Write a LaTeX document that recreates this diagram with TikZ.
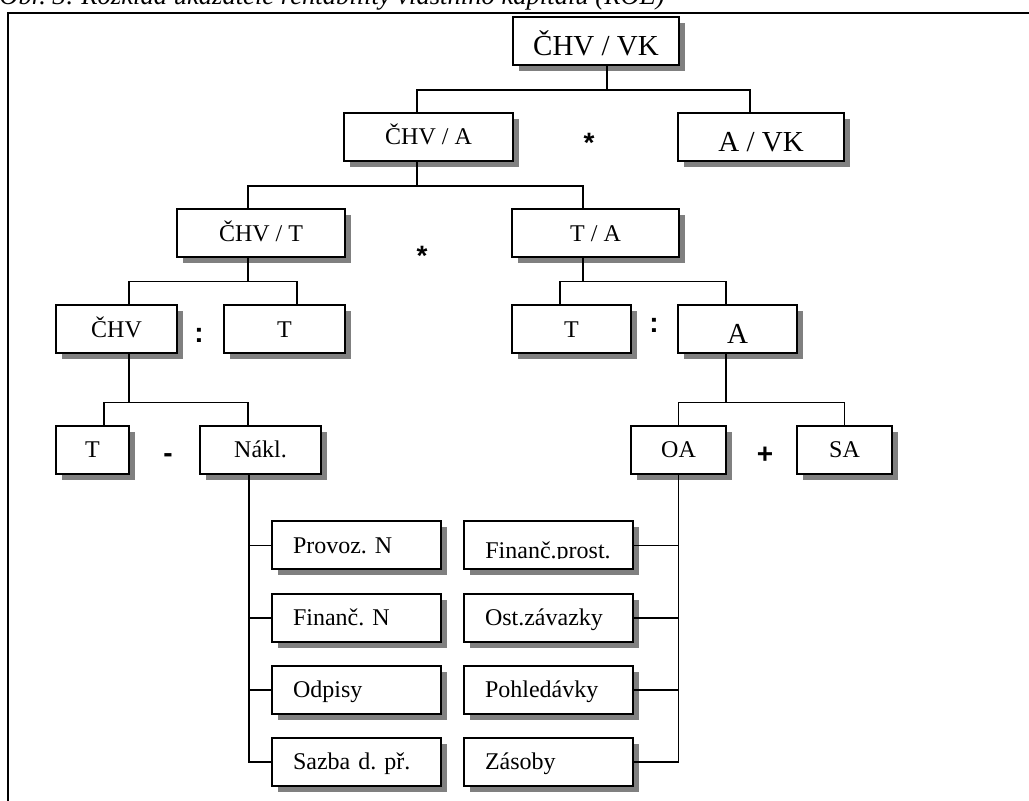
\documentclass[tikz,border=0pt]{standalone}
\usepackage{fontspec}
\setmainfont{Liberation Serif}
\newfontfamily\opfont{Liberation Sans}
\usetikzlibrary{calc,shadows}
\frenchspacing

\tikzset{
  box/.style={draw, line width=1pt, fill=white, minimum height=24pt, inner sep=0pt,
    text height=7.9pt, text depth=0pt, font=\fontsize{12}{14}\selectfont,
    drop shadow={shadow xshift=3pt, shadow yshift=-3pt, fill=black!50, opacity=1}},
  bigbox/.style={box, text height=14.5pt, font=\fontsize{14.5}{17}\selectfont},
  listbox/.style={box, minimum width=84.5pt, text width=63.5pt, align=left, inner xsep=10.5pt},
  op/.style={anchor=base, inner sep=0pt, font=\opfont\bfseries\fontsize{14}{16}\selectfont},
  link/.style={line width=0.7pt},
}

\begin{document}
\begin{tikzpicture}[x=0.5pt, y=-0.5pt]
    \useasboundingbox (0,0) rectangle (1029,801);
    % caption and frame
    \path (-1,5) node [anchor=base west, inner sep=0pt, font=\itshape\fontsize{13.3}{15}\selectfont] (titulek)
        {Obr. 3: Rozklad ukazatele rentability vlastního kapitálu (ROE)};
    \draw [line width=1pt] (1029,13) -- (8,13) -- (8,801);

    % tree
    \path (596,  41) node [bigbox, minimum width=83pt] (chvvk) {ČHV / VK};
    \path (428.5,137) node [box, minimum width=84.5pt] (chva) {ČHV / A};
    \path (761, 137.5) node [bigbox, minimum width=83pt] (avk) {A / VK};
    \path (261, 233.5) node [box, minimum width=84pt] (chvt) {ČHV / T};
    \path (595.5,233.5) node [box, minimum width=83.5pt] (ta) {T / A};
    \path (116.5,329.5) node [box, minimum width=60.5pt] (chv) {ČHV};
    \path (284.5,329.5) node [box, minimum width=60.5pt] (t1) {T};
    \path (571.5,329.5) node [box, minimum width=59.5pt] (t2) {T};
    \path (737.5,329.5) node [bigbox, minimum width=59.5pt] (a) {A};
    \path ( 92.5, 450) node [box, minimum width=36.5pt] (t3) {T};
    \path (260.5, 450) node [box, minimum width=60.5pt] (nakl) {Nákl.};
    \path (678.5, 450) node [box, minimum width=47.5pt] (oa) {OA};
    \path (844.5, 450) node [box, minimum width=47.5pt] (sa) {SA};

    % operators
    \path (589, 153) node [op] (krat1) {*};
    \path (422, 266) node [op] (krat2) {*};
    \path (199, 343) node [op] (deleno1) {:};
    \path (654, 333) node [op] (deleno2) {:};
    \path (168, 463) node [op] (minus) {-};
    \path (765, 464) node [op] (plus) {+};

    % costs and assets
    \path (356.5, 545.5) node [listbox] (n1) {Provoz. N};
    \path (356.5, 618) node [listbox] (n2) {Finanč. N};
    \path (356.5, 690) node [listbox] (n3) {Odpisy};
    \path (356.5, 762) node [listbox] (n4) {Sazba d. př.};
    \path (548.5, 545.5) node [listbox] (p1) {};
    \begin{scope}
      \clip (464,522) rectangle (633,559);
      \path (485,559) node [anchor=base west, inner sep=0pt, font=\fontsize{12}{14}\selectfont] (fp) {Finanč.prost.};
    \end{scope}
    \path (548.5, 618) node [listbox] (p2) {Ost.závazky};
    \path (548.5, 690) node [listbox] (p3) {Pohledávky};
    \path (548.5, 762) node [listbox] (p4) {Zásoby};

    % connectors
    \draw [link] ($(chvvk.south)+(11,0)$) -- ++(0,24) coordinate (j1);
    \draw [link] ($(chva.north)+(-11.5,0)$) |- (j1) -| ($(avk.north)+(-11,0)$);
    \draw [link] ($(chva.south)+(-11.5,0)$) -- ++(0,24) coordinate (j2);
    \draw [link] ($(chvt.north)+(-13,0)$) |- (j2) -| ($(ta.north)+(-12.5,0)$);
    \draw [link] ($(chvt.south)+(-13,0)$) -- ++(0,23) coordinate (j3);
    \draw [link] ($(chv.north)+(12.5,0)$) |- (j3) -| ($(t1.north)+(12.5,0)$);
    \draw [link] ($(ta.south)+(-12.5,0)$) -- ++(0,23) coordinate (j4);
    \draw [link] ($(t2.north)+(-11.5,0)$) |- (j4) -| ($(a.north)+(-11.5,0)$);
    \draw [link] ($(chv.south)+(12.5,0)$) -- ++(0,48) coordinate (j5);
    \draw [link] ($(t3.north)+(11.5,0)$) |- (j5) -| ($(nakl.north)+(-12.5,0)$);
    \draw [link] ($(a.south)+(-11.5,0)$) -- ++(0,48) coordinate (j6);
    \draw [link] (oa.north) |- (j6) -| (sa.north);

    \coordinate (kmen1) at ($(nakl.south)+(-11.5,0)$);
    \draw [link] (kmen1) |- (n4.west);
    \coordinate (kmen2) at (oa.south);
    \draw [link] (kmen2) |- (p4.east);
    \foreach \i in {1,2,3} {
      \draw [link] (n\i.west) -- (n\i.west -| kmen1);
      \draw [link] (p\i.east) -- (p\i.east -| kmen2);
    }
\end{tikzpicture}
\end{document}
